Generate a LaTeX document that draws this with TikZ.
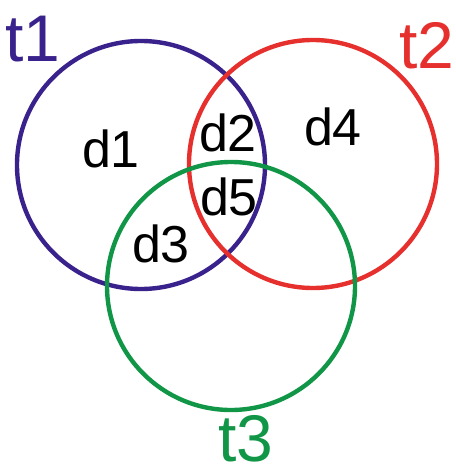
\documentclass[tikz,border=0pt]{standalone}
\usepackage{fontspec}
\setmainfont{Liberation Sans}
\usetikzlibrary{positioning}

\definecolor{tonecol}{RGB}{58,34,140}
\definecolor{ttwocol}{RGB}{230,48,46}
\definecolor{tthreecol}{RGB}{16,150,70}

\begin{document}
\begin{tikzpicture}[x=0.5pt,y=-0.5pt,
  setline/.style={line width=2.2pt},
  region/.style={inner sep=0pt,font=\fontsize{26}{30}\selectfont},
  setname/.style={inner sep=0pt,font=\fontsize{33}{38}\selectfont}]
  \def\R{124}

  \useasboundingbox (0,0) rectangle (455,470);

  % ================= three sets =================
  \draw[setline,tonecol] (141,165) circle[radius=\R];
  \draw[setline,ttwocol] (313,164) circle[radius=\R];
  \draw[setline,tthreecol] (231,286) circle[radius=\R];

  % ================= set names =================
  \node[setname,text=tonecol] (t1) at (33,39) {t1};
  \node[setname,text=ttwocol] (t2) at (427,46) {t2};
  \node[setname,text=tthreecol] (t3) at (246,439) {t3};

  % ================= regions =================
  \node[region] (d1) at (111,149) {d1};
  \node[region] (d2) at (228,133) {d2};
  \node[region] (d4) at (333,127) {d4};
  \node[region] (d5) at (229,197) {d5};
  \node[region] (d3) at (161,244) {d3};

\end{tikzpicture}
\end{document}
